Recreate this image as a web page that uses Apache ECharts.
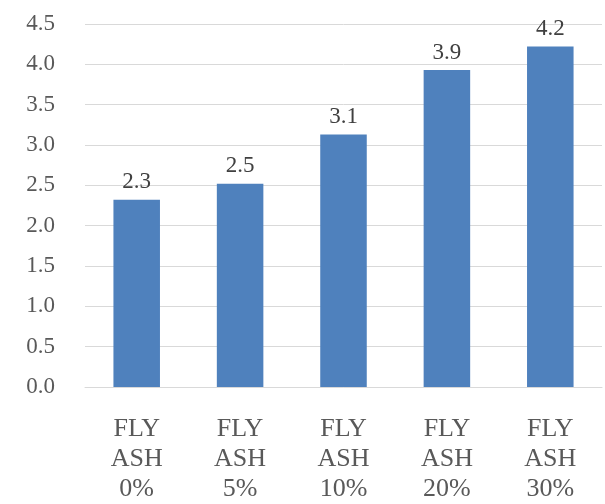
<!DOCTYPE html>
<html>
<head>
<meta charset="utf-8">
<script src="https://cdn.jsdelivr.net/npm/echarts@6/dist/echarts.min.js"></script>
<style>
  html, body { margin: 0; padding: 0; background: #fff; }
  #chart { width: 605px; height: 504px; }
</style>
</head>
<body>
<div id="chart"></div>
<script>
// fly ash content vs value
const categories = ['FLY\nASH\n0%', 'FLY\nASH\n5%', 'FLY\nASH\n10%', 'FLY\nASH\n20%', 'FLY\nASH\n30%'];
const values = [2.32, 2.52, 3.13, 3.93, 4.22];

const chart = echarts.init(document.getElementById('chart'));
const serif = '"Liberation Serif", "DejaVu Serif", serif';

chart.setOption({
    animation: false,
    grid: { left: 85, right: 3, top: 24, bottom: 115, containLabel: false },
    xAxis: {
        type: 'category',
        data: categories,
        axisLine: { lineStyle: { color: '#d9d9d9', width: 1 } },
        axisTick: { show: false },
        axisLabel: {
            margin: 27,
            color: '#595959',
            fontFamily: serif,
            fontSize: 26,
            lineHeight: 30
        }
    },
    yAxis: {
        type: 'value',
        min: 0,
        max: 4.5,
        interval: 0.5,
        axisLine: { show: false },
        axisTick: { show: false },
        splitLine: { lineStyle: { color: '#d9d9d9', width: 1 } },
        axisLabel: {
            margin: 30,
            color: '#595959',
            fontFamily: serif,
            fontSize: 23,
            formatter: v => v.toFixed(1)
        }
    },
    series: [{
        type: 'bar',
        data: values,
        barWidth: '45%',
        itemStyle: { color: '#4f81bd' },
        label: {
            show: true,
            position: 'top',
            distance: 6,
            color: '#404040',
            fontFamily: serif,
            fontSize: 23,
            formatter: p => p.value.toFixed(1)
        }
    }]
});
</script>
</body>
</html>
